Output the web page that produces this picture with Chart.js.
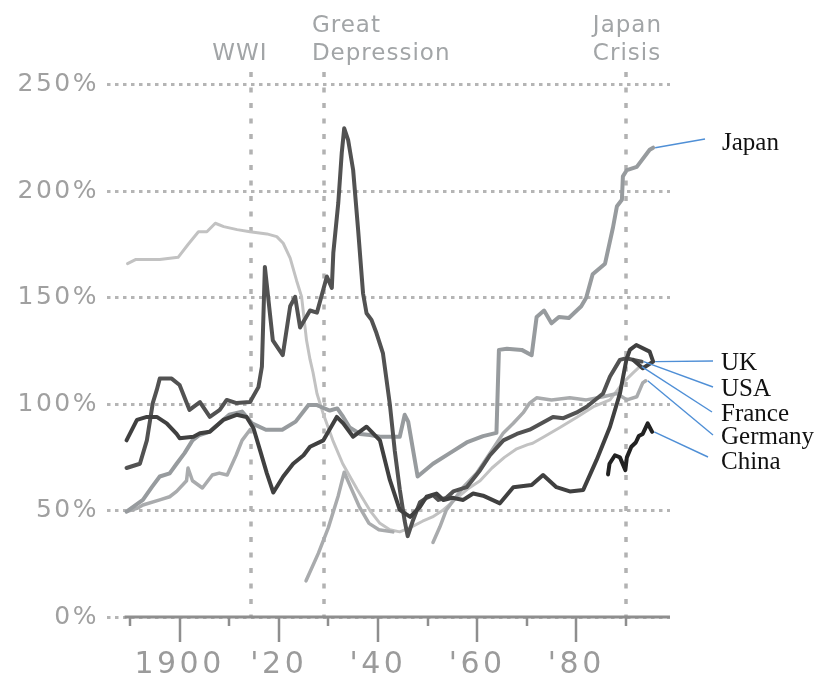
<!DOCTYPE html>
<html>
<head>
<meta charset="utf-8">
<script src="https://cdn.jsdelivr.net/npm/chart.js@4.4.0/dist/chart.umd.min.js"></script>
<style>
html,body{margin:0;padding:0;background:#ffffff;}
canvas{display:block;}
</style>
</head>
<body>
<canvas id="c" width="816" height="682"></canvas>
<script>
// ---------------- DATA ----------------
const franceYears = [1889.5,1891.2,1896,1899.7,1901.7,1903.8,1905.5,1907.2,1908.9,1911.6,1914.2,1917.6,1919.6,1920.9,1922.3,1923.6,1924.6,1925.6,1926.3,1926.9,1927.7,1928.9,1930.9,1932.9,1935.8,1938.4,1940.4,1942.4,1944.4,1946.5,1949,1951,1953,1955.5,1958,1960.6,1963,1965.5,1968,1970.2,1971.2,1973.5,1976.7,1980.2,1983.6,1986.8,1989.4,1991.4,1992.8];
const franceValues = [166,168,168,169,175,181,181,185,183.4,182,181,180,178.7,175.6,168.6,158,150.5,130,121,115,105,96,83,72,60,50,44,41,40,42,45,47,50,55,60,64,70,75,79,81,81.6,84.7,89,94,99,102,110,114.6,117.6];

const germanyYears = [1889.3,1891.4,1892.6,1896,1898,1899.4,1901.4,1901.7,1902.6,1904.6,1906.6,1908,1909.6,1911.4,1912.6,1914.2,1920,1925.5,1928,1930,1932,1933.2,1934.5,1936.2,1938.2,1940.2,1943,1947,1951.1,1952.5,1953.8,1957.2,1959.9,1962.6,1965.3,1967.3,1969.3,1970.6,1972,1975,1978.7,1982,1985.4,1988.2,1990.2,1992.2,1993.4,1994];
const germanyValues = [49.5,51,52.6,55,56.5,59,64,70,64,60.6,66.7,67.6,66.7,76,83,88,null,17,30,42,57,68,61,52,44,41,40,null,35,42.4,50.3,61,67.5,77,86.5,91,96,100.5,103,102,103,102,103.5,105,102,103.5,110,111];

const japanYears = [1889.3,1892.6,1894.4,1896,1898,1899.4,1901,1902.6,1904,1906,1908,1910,1912.6,1914.6,1917.4,1920.7,1923.4,1926,1927.6,1930.3,1931.8,1933,1934.3,1936.4,1938.4,1940.4,1942.4,1944.4,1945.4,1946.1,1948,1951.1,1954.5,1957.9,1961.2,1963.9,1964.4,1966,1969,1971,1972,1973.5,1975,1976.5,1978.5,1981,1982,1983.3,1985.8,1987.4,1988.2,1989.2,1989.4,1990.2,1992.2,1994.8,1995.5];
const japanValues = [49.5,55,61,66,67.5,72,77,83,85.5,87,91,95,96.5,91,88,88,91.8,99.6,99.6,97,98,94,89,86,85.5,84.7,84.7,84.7,95,91.8,66,72,77,82,85,86.5,125.5,126,125.5,123,141,144,138,141,140.5,146,150,161,166,183,193,196,207,210,211.5,219.5,220.5];

const usaYears = [1889.3,1892,1893.4,1894.6,1895.4,1896,1898.4,1900,1902,1904.1,1906.1,1908.1,1909.5,1911.5,1914.2,1915.9,1916.6,1917.2,1918.8,1920.8,1922.3,1923.3,1924.3,1926.3,1927.7,1929.7,1930.7,1931,1932,1932.7,1933.2,1934,1935,1936,1937,1937.7,1938.7,1939.7,1941,1942.4,1943.4,1944.4,1945.4,1946,1947.1,1948.5,1949.8,1951.1,1952.2,1953.8,1955.2,1957.9,1960.6,1962.6,1965.3,1968,1970.6,1973,1975.3,1977.4,1980,1982.1,1985.4,1986.8,1988.8,1990.1,1991.5,1993.2];
const usaValues = [70,72,83,100.6,106.7,112,112,109,97.3,101,94,97.3,102,100.5,101,108,117.6,164.5,130,123,146,150.4,136,144,143,160,154.6,171,194.5,218,229.6,224,210,182,152,142.7,139.6,133.4,124,100,78,60,45,38,45.6,54,56,57.3,55,56,59,61,69,76,83,86,88,91,94,93.4,96,98.8,105,113,120.8,121.6,120.8,120];

const ukYears = [1889.3,1891.4,1893.4,1895.4,1897.4,1899.4,1900,1902.8,1904.1,1906.1,1908.8,1911.5,1913.5,1914.9,1916.2,1917.6,1918.9,1920.9,1922.9,1925,1926.3,1929,1931.7,1933,1935,1937.7,1940.4,1942.4,1944.4,1946.5,1948.5,1949.8,1951.8,1953.2,1955,1957.2,1959.2,1961.2,1964.6,1967.3,1971,1973.3,1976,1978.7,1981.4,1984.1,1986.8,1988.8,1990.1,1990.8,1992.1,1994.8,1995.5,1993.4,1991.5];
const ukValues = [83,92.6,94,94,91,86,84,84.7,86.3,87,92.6,95,94,88.7,78.5,67.5,58.5,66,72,76,80,83,94,91,84.7,89.4,83,64.4,50.3,47,51.8,56.5,58,55,56,55,58,57,53.4,61,62,66.7,61,59,59.7,73.8,89.4,105,120.8,125.5,127.8,124.7,120,116.9,120.8];

const chinaYears = [1986.4,1986.7,1987.8,1988.8,1989.9,1990.2,1991.1,1992,1992.6,1993.4,1994.4,1995.3];
const chinaValues = [67,72,76,75,69,75,80,82,85,86,91,87];

const seriesNames = ["France","Germany","Japan","USA","UK","China"];

const yTickValues = [0,50,100,150,200,250];
const yTickLabels = ["0%","50%","100%","150%","200%","250%"];
const xTickValues = [1900,1920,1940,1960,1980];
const xTickLabels = ["1900","'20","'40","'60","'80"];
const xMinorTickValues = [1890,1910,1930,1950,1970,1990];

const eventYears = [1914.5,1929.1,1990];
const eventLabels = [["WWI"],["Great","Depression"],["Japan","Crisis"]];

const calloutNames = ["Japan","UK","USA","France","Germany","China"];

// ---------------- STYLE / LAYOUT ----------------
const xMin = 1885.36, xMax = 1998.9, yMin = 0, yMax = 257;
const axisStartYear = 1888.9;
const lineStyles = {
  France:  {color:'#c2c2c2', width:3,   order:6},
  Germany: {color:'#a9abad', width:3.5, order:5},
  Japan:   {color:'#979b9e', width:4,   order:4},
  USA:     {color:'#525252', width:4,   order:3},
  UK:      {color:'#404040', width:4,   order:2},
  China:   {color:'#222222', width:4,   order:1}
};
const eventLabelLayout = [
  {align:'center', dx:-11.5},
  {align:'left',   dx:-12},
  {align:'left',   dx:-33}
];
const calloutLayout = {
  Japan:   {tx:722, ty:143, lx:705, ly:139},
  UK:      {tx:721, ty:363, lx:713, ly:361},
  USA:     {tx:721, ty:389, lx:713, ly:387},
  France:  {tx:721, ty:414, lx:712, ly:412},
  Germany: {tx:721, ty:437, lx:713, ly:435},
  China:   {tx:721, ty:462, lx:708, ly:457}
};

const seriesData = {
  France:  [franceYears, franceValues],
  Germany: [germanyYears, germanyValues],
  Japan:   [japanYears, japanValues],
  USA:     [usaYears, usaValues],
  UK:      [ukYears, ukValues],
  China:   [chinaYears, chinaValues]
};

const datasets = seriesNames.map(name => {
  const [xs, ys] = seriesData[name];
  const st = lineStyles[name];
  return {
    label: name,
    data: xs.map((x, i) => ({x: x, y: ys[i]})),
    borderColor: st.color,
    borderWidth: st.width,
    order: st.order,
    pointRadius: 0,
    pointHoverRadius: 0,
    tension: 0,
    spanGaps: false,
    fill: false,
    borderJoinStyle: 'round',
    borderCapStyle: 'round'
  };
});

const decorPlugin = {
  id: 'decor',
  beforeDraw(chart) {
    chart.ctx.letterSpacing = '2.5px';   // y tick labels
  },
  beforeDatasetsDraw(chart) {
    const ctx = chart.ctx, xs = chart.scales.x, ys = chart.scales.y;
    ctx.save();
    ctx.strokeStyle = '#b2b2b2';
    ctx.lineWidth = 3.5;
    ctx.setLineDash([5, 10.5]);
    eventYears.forEach(yr => {
      const px = Math.round(xs.getPixelForValue(yr));
      ctx.beginPath();
      ctx.moveTo(px, chart.chartArea.top + 2);
      ctx.lineTo(px, ys.getPixelForValue(0));
      ctx.stroke();
    });
    ctx.restore();
  },
  afterDatasetsDraw(chart) {
    const ctx = chart.ctx, xs = chart.scales.x, ys = chart.scales.y;
    const y0 = ys.getPixelForValue(0);
    ctx.save();
    ctx.strokeStyle = '#8e8e8e';
    ctx.lineWidth = 3;
    ctx.setLineDash([]);
    ctx.beginPath();
    ctx.moveTo(xs.getPixelForValue(axisStartYear), y0);
    ctx.lineTo(chart.chartArea.right, y0);
    ctx.stroke();
    ctx.lineWidth = 2.5;
    xTickValues.forEach(v => {
      const px = Math.round(xs.getPixelForValue(v));
      ctx.beginPath(); ctx.moveTo(px, y0); ctx.lineTo(px, y0 + 25); ctx.stroke();
    });
    xMinorTickValues.forEach(v => {
      const px = Math.round(xs.getPixelForValue(v));
      ctx.beginPath(); ctx.moveTo(px, y0); ctx.lineTo(px, y0 + 9); ctx.stroke();
    });
    ctx.restore();
    ctx.letterSpacing = '3.5px';   // x tick labels (drawn after datasets)
  },
  afterDraw(chart) {
    const ctx = chart.ctx, xs = chart.scales.x, ys = chart.scales.y;
    ctx.save();
    ctx.letterSpacing = '1px';
    ctx.fillStyle = '#a2a5a7';
    ctx.font = '23px "DejaVu Sans", sans-serif';
    ctx.textBaseline = 'alphabetic';
    ctx.textAlign = 'left';
    eventYears.forEach((yr, i) => {
      const lay = eventLabelLayout[i];
      const px = xs.getPixelForValue(yr) + lay.dx;
      const lines = eventLabels[i];
      const baselines = lines.length === 2 ? [32, 60] : [60];
      lines.forEach((t, j) => {
        const w = ctx.measureText(t).width;
        const x = lay.align === 'center' ? px - w / 2 : px;
        ctx.fillText(t, x, baselines[j]);
      });
    });
    ctx.letterSpacing = '0px';
    ctx.font = '25px "Liberation Serif", "Times New Roman", serif';
    ctx.fillStyle = '#111111';
    ctx.textBaseline = 'middle';
    ctx.strokeStyle = '#4f8fd6';
    ctx.lineWidth = 1.4;
    calloutNames.forEach(name => {
      const [xArr, yArr] = seriesData[name];
      let best = -1;
      xArr.forEach((x, i) => { if (yArr[i] !== null && (best < 0 || x > xArr[best])) best = i; });
      const ax = xs.getPixelForValue(xArr[best]);
      const ay = ys.getPixelForValue(yArr[best]);
      const L = calloutLayout[name];
      ctx.beginPath();
      ctx.moveTo(L.lx, L.ly);
      ctx.lineTo(ax + 2, ay);
      ctx.stroke();
      ctx.fillText(name, L.tx, L.ty);
    });
    ctx.restore();
  }
};

new Chart(document.getElementById('c'), {
  type: 'line',
  data: { datasets: datasets },
  plugins: [decorPlugin],
  options: {
    responsive: false,
    animation: false,
    devicePixelRatio: 1,
    layout: { padding: { left: 0, right: 146, top: 70, bottom: 0 } },
    plugins: { legend: { display: false }, tooltip: { enabled: false } },
    events: [],
    scales: {
      x: {
        type: 'linear',
        min: xMin, max: xMax,
        afterFit(s) { s.height = 65; },
        afterBuildTicks(s) { s.ticks = xTickValues.map(v => ({value: v})); },
        grid: { display: false, drawTicks: false },
        border: { display: false },
        ticks: {
          z: 1,
          autoSkip: false, maxRotation: 0, padding: 30,
          color: '#9b9b9b',
          font: { family: '"DejaVu Sans", sans-serif', size: 30 },
          callback: (v) => { const i = xTickValues.indexOf(v); return i >= 0 ? xTickLabels[i] : ''; }
        }
      },
      y: {
        type: 'linear',
        min: yMin, max: yMax,
        afterFit(s) { s.width = 107; },
        afterBuildTicks(s) { s.ticks = yTickValues.map(v => ({value: v})); },
        grid: { color: '#b5b5b5', lineWidth: 3, drawTicks: false },
        border: { display: false, dash: [3.5, 4.5] },
        ticks: {
          padding: 8,
          color: '#a0a0a0',
          font: { family: '"DejaVu Sans", sans-serif', size: 25 },
          callback: (v) => { const i = yTickValues.indexOf(v); return i >= 0 ? yTickLabels[i] : ''; }
        }
      }
    }
  }
});
</script>
</body>
</html>
